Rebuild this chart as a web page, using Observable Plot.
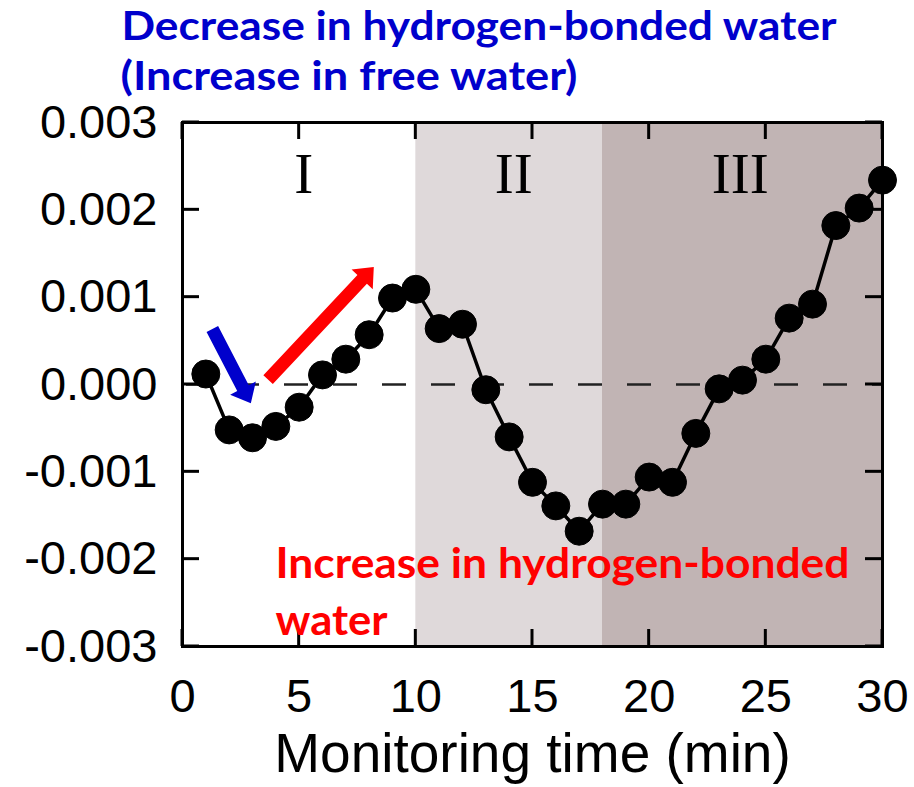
<!DOCTYPE html>
<html>
<head>
<meta charset="utf-8">
<script src="https://cdn.jsdelivr.net/npm/d3@7"></script>
<script src="https://cdn.jsdelivr.net/npm/@observablehq/plot@0.6"></script>
<style>
  html, body { margin: 0; padding: 0; background: #fff; }
  #chart { width: 914px; height: 787px; }
</style>
</head>
<body>
<div id="chart"></div>
<script>
// Monitoring time (min) and measured difference signal
const minutes = [1,2,3,4,5,6,7,8,9,10,11,12,13,14,15,16,17,18,19,20,21,22,23,24,25,26,27,28,29,30];
const signal = [0.00012,-0.00052,-0.00061,-0.00048,-0.00026,0.00011,0.00029,0.00057,0.00099,0.00109,
                0.00064,0.00069,-0.00006,-0.00060,-0.00112,-0.00139,-0.00168,-0.00137,-0.00137,-0.00106,
                -0.00112,-0.00056,-0.00005,0.00005,0.00029,0.00076,0.00092,0.00182,0.00202,0.00234];

// Phases of the experiment
const phaseNames = ["I", "II", "III"];
const phaseStart = [0, 10, 18];
const phaseEnd = [10, 18, 30];
const phaseFill = ["#FFFFFF", "#DFD9DA", "#C1B4B4"];
const phaseLabelX = [5.2, 14.2, 23.9];

// Axis ticks
const xTicks = [0, 5, 10, 15, 20, 25, 30];
const yTicks = [-0.003, -0.002, -0.001, 0, 0.001, 0.002, 0.003];

// Trend arrows (minutes, signal)
const arrowColor = ["#0000CC", "#FF0000"];
const arrowX1 = [1.30, 3.69];
const arrowY1 = [0.00063, 0.00005];
const arrowX2 = [2.95, 8.22];
const arrowY2 = [-0.00022, 0.00134];

// Annotation text
const titleLines = ["Decrease in hydrogen-bonded water", "(Increase in free water)"];
const noteLines = ["Increase in hydrogen-bonded", "water"];
const xLabel = "Monitoring time (min)";

const points = minutes.map((m, i) => ({m, v: signal[i]}));
const phases = phaseNames.map((name, i) => ({name, x1: phaseStart[i], x2: phaseEnd[i], fill: phaseFill[i], lx: phaseLabelX[i]}));
const arrows = arrowColor.map((c, i) => ({c, x1: arrowX1[i], y1: arrowY1[i], x2: arrowX2[i], y2: arrowY2[i]}));

// Filled block arrows drawn through the plot's scales
function blockArrows(data, {shaft = 13, headWidth = 29, headLength = 17} = {}) {
  return (index, {x, y}) => {
    const g = d3.create("svg:g");
    for (const a of data) {
      const x1 = x(a.x1), y1 = y(a.y1), x2 = x(a.x2), y2 = y(a.y2);
      const L = Math.hypot(x2 - x1, y2 - y1);
      const ux = (x2 - x1) / L, uy = (y2 - y1) / L, px = -uy, py = ux;
      const bx = x2 - ux * headLength, by = y2 - uy * headLength;
      const s = shaft / 2, h = headWidth / 2;
      const pts = [
        [x1 + px * s, y1 + py * s], [bx + px * s, by + py * s], [bx + px * h, by + py * h],
        [x2, y2],
        [bx - px * h, by - py * h], [bx - px * s, by - py * s], [x1 - px * s, y1 - py * s]
      ];
      g.append("polygon").attr("points", pts.map(p => p.join(",")).join(" ")).attr("fill", a.c);
    }
    return g.node();
  };
}

// Inward tick marks on all four sides of the frame
function innerTicks(xs, ys, {size = 17, width = 3} = {}) {
  return (index, {x, y}, values, {marginLeft, marginTop, width: W, height: H, marginRight, marginBottom}) => {
    const left = marginLeft, right = W - marginRight, top = marginTop, bottom = H - marginBottom;
    const g = d3.create("svg:g").attr("stroke", "black").attr("stroke-width", width);
    for (const t of xs) {
      const px = x(t);
      g.append("line").attr("x1", px).attr("x2", px).attr("y1", bottom).attr("y2", bottom - size);
      g.append("line").attr("x1", px).attr("x2", px).attr("y1", top).attr("y2", top + size);
    }
    for (const t of ys) {
      const py = y(t);
      g.append("line").attr("y1", py).attr("y2", py).attr("x1", left).attr("x2", left + size);
      g.append("line").attr("y1", py).attr("y2", py).attr("x1", right).attr("x2", right - size);
    }
    return g.node();
  };
}

const sans = "'Liberation Sans', Arial, Helvetica, sans-serif";
const bold = "Lato, 'Open Sans', sans-serif";

const svg = Plot.plot({
  width: 914,
  height: 787,
  marginLeft: 182,
  marginRight: 32,
  marginTop: 122,
  marginBottom: 141,
  style: {background: "white", color: "black", fontFamily: sans},
  x: {domain: [0, 30]},
  y: {domain: [-0.003, 0.003]},
  marks: [
    Plot.rect(phases.filter(d => d.x1 > 0), {x1: "x1", x2: "x2", fill: "fill"}),
    Plot.ruleY([0], {stroke: "#222", strokeWidth: 2.3, strokeDasharray: "24,25", strokeDashoffset: 45}),
    Plot.line(points, {x: "m", y: "v", stroke: "black", strokeWidth: 3.5}),
    Plot.dot(points, {x: "m", y: "v", r: 14, fill: "black", stroke: "black", strokeWidth: 1}),
    blockArrows(arrows),
    innerTicks(xTicks, yTicks),
    Plot.frame({stroke: "black", strokeWidth: 3}),
    Plot.axisY({ticks: yTicks, tickSize: 0, tickPadding: 25, tickFormat: d => d.toFixed(3), label: null, fontSize: 47, fontFamily: sans}),
    Plot.axisX({ticks: xTicks, tickSize: 0, tickPadding: 32, tickFormat: d => String(d), label: null, fontSize: 47, fontFamily: sans}),
    Plot.text([xLabel], {text: d => d, frameAnchor: "bottom", dy: 125, lineAnchor: "bottom", fontSize: 55, fontFamily: sans, fill: "black"}),
    Plot.text(phases, {x: "lx", text: "name", frameAnchor: "top", dy: 70, lineAnchor: "bottom", fontSize: 57, fontFamily: "'Liberation Serif', 'Times New Roman', serif", fill: "black"}),
    Plot.text([titleLines[0]], {text: d => d, frameAnchor: "top-left", dx: -61, dy: -83, textAnchor: "start", lineAnchor: "bottom", fontSize: 41, fontWeight: "bold", fontFamily: bold, fill: "#0000CC"}),
    Plot.text([titleLines[1]], {text: d => d, frameAnchor: "top-left", dx: -62, dy: -33, textAnchor: "start", lineAnchor: "bottom", fontSize: 41, fontWeight: "bold", fontFamily: bold, fill: "#0000CC"}),
    Plot.text([noteLines[0]], {text: d => d, frameAnchor: "bottom-left", dx: 93, dy: -69, textAnchor: "start", lineAnchor: "bottom", fontSize: 42, fontWeight: "bold", fontFamily: bold, fill: "#FF0000"}),
    Plot.text([noteLines[1]], {text: d => d, frameAnchor: "bottom-left", dx: 93, dy: -12, textAnchor: "start", lineAnchor: "bottom", fontSize: 42, fontWeight: "bold", fontFamily: bold, fill: "#FF0000"})
  ]
});

// Calibri-like widths for the bold annotation lines
const fitWidth = new Map([[titleLines[0], 715], [titleLines[1], 457], [noteLines[0], 574], [noteLines[1], 112]]);
d3.select(svg).selectAll("text").each(function() {
  const w = fitWidth.get(this.textContent);
  if (w) {
    this.setAttribute("textLength", w);
    this.setAttribute("lengthAdjust", "spacingAndGlyphs");
  }
});

document.getElementById("chart").appendChild(svg);
</script>
</body>
</html>
